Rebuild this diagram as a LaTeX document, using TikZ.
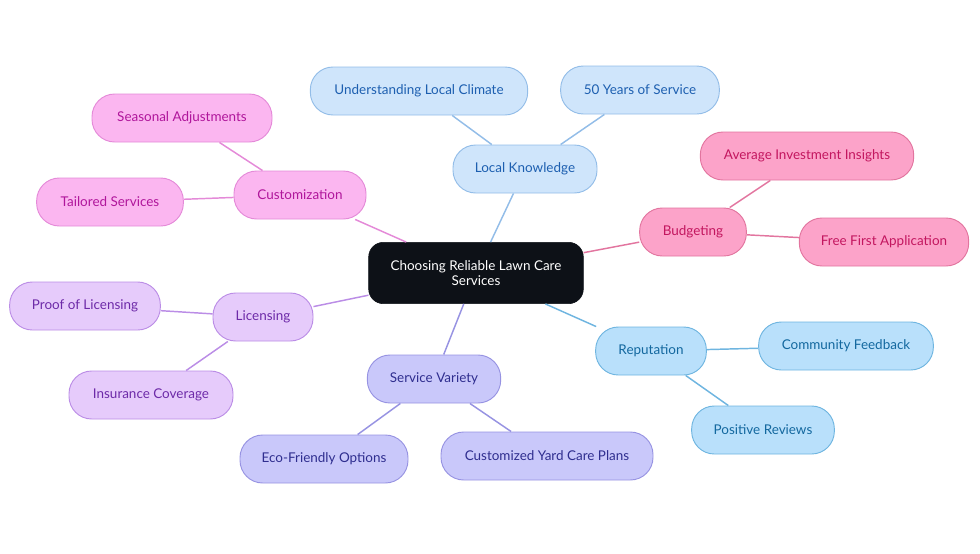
\documentclass[tikz,border=0pt]{standalone}
\usepackage{fontspec}
\setmainfont{Lato}
\usepackage{tikz}
\usetikzlibrary{positioning}

\definecolor{rootfill}{HTML}{0D1117}
\definecolor{lkfill}{HTML}{CFE5FB}\definecolor{lkline}{HTML}{93BDE8}\definecolor{lktext}{HTML}{1D5FB0}
\definecolor{cufill}{HTML}{FBB6F0}\definecolor{culine}{HTML}{E48AD8}\definecolor{cutext}{HTML}{B0169B}
\definecolor{bufill}{HTML}{FCA3C9}\definecolor{buline}{HTML}{E2759F}\definecolor{butext}{HTML}{C3165F}
\definecolor{refill}{HTML}{B9E0FB}\definecolor{reline}{HTML}{6FB5E0}\definecolor{retext}{HTML}{13689F}
\definecolor{svfill}{HTML}{C9C8FA}\definecolor{svline}{HTML}{9793E2}\definecolor{svtext}{HTML}{2F2E8F}
\definecolor{lifill}{HTML}{E6CBFB}\definecolor{liline}{HTML}{BB8DE6}\definecolor{litext}{HTML}{6D2AA8}

\begin{document}
\begin{tikzpicture}[
    x=0.75pt, y=-0.75pt,
    pill/.style={rounded corners=17pt, draw, line width=0.7pt, minimum height=36pt,
        inner sep=0pt, font=\fontsize{10.1}{11}\selectfont},
    lknode/.style={pill, fill=lkfill, draw=lkline, text=lktext},
    cunode/.style={pill, fill=cufill, draw=culine, text=cutext},
    bunode/.style={pill, fill=bufill, draw=buline, text=butext},
    renode/.style={pill, fill=refill, draw=reline, text=retext},
    svnode/.style={pill, fill=svfill, draw=svline, text=svtext},
    linode/.style={pill, fill=lifill, draw=liline, text=litext},
    rootnode/.style={rounded corners=11pt, fill=rootfill, draw=rootfill, text=white,
        minimum width=161pt, minimum height=46pt, inner sep=0pt, align=center,
        font=\fontsize{10.1}{11.25}\selectfont},
    link/.style={line width=1.1pt}
]
    \useasboundingbox (0,0) rectangle (980,553);

    \node[rootnode] (root) at (476,273) {Choosing Reliable Lawn Care\\Services};

    \node[lknode, minimum width=108pt] (lk) at (525,169) {Local Knowledge};
    \node[lknode, minimum width=163pt] (lk1) at (419,91) {Understanding Local Climate};
    \node[lknode, minimum width=119pt] (lk2) at (640,90) {50 Years of Service};

    \node[bunode, minimum width=80pt] (bu) at (693,232) {Budgeting};
    \node[bunode, minimum width=160pt] (bu1) at (807,156) {Average Investment Insights};
    \node[bunode, minimum width=127pt] (bu2) at (884,242) {Free First Application};

    \node[renode, minimum width=83pt] (re) at (651,351) {Reputation};
    \node[renode, minimum width=131pt] (re1) at (846,346) {Community Feedback};
    \node[renode, minimum width=107pt] (re2) at (763,430) {Positive Reviews};

    \node[svnode, minimum width=100pt] (sv) at (434,379) {Service Variety};
    \node[svnode, minimum width=126pt] (sv1) at (324,459) {Eco-Friendly Options};
    \node[svnode, minimum width=159pt] (sv2) at (547,456) {Customized Yard Care Plans};

    \node[linode, minimum width=75pt] (li) at (263,317) {Licensing};
    \node[linode, minimum width=113pt] (li1) at (85,306) {Proof of Licensing};
    \node[linode, minimum width=123pt] (li2) at (151,395) {Insurance Coverage};

    \node[cunode, minimum width=99pt] (cu) at (300,195) {Customization};
    \node[cunode, minimum width=135pt] (cu1) at (182,118) {Seasonal Adjustments};
    \node[cunode, minimum width=110pt] (cu2) at (110,202) {Tailored Services};

    \draw[link, draw=lkline] (root) -- (lk);
    \draw[link, draw=lkline] (lk) -- (lk1);
    \draw[link, draw=lkline] (lk) -- (lk2);
    \draw[link, draw=buline] (root) -- (bu);
    \draw[link, draw=buline] (bu) -- (bu1);
    \draw[link, draw=buline] (bu) -- (bu2);
    \draw[link, draw=reline] (root) -- (re);
    \draw[link, draw=reline] (re) -- (re1);
    \draw[link, draw=reline] (re) -- (re2);
    \draw[link, draw=svline] (root) -- (sv);
    \draw[link, draw=svline] (sv) -- (sv1);
    \draw[link, draw=svline] (sv) -- (sv2);
    \draw[link, draw=liline] (root) -- (li);
    \draw[link, draw=liline] (li) -- (li1);
    \draw[link, draw=liline] (li) -- (li2);
    \draw[link, draw=culine] (root) -- (cu);
    \draw[link, draw=culine] (cu) -- (cu1);
    \draw[link, draw=culine] (cu) -- (cu2);
\end{tikzpicture}
\end{document}
